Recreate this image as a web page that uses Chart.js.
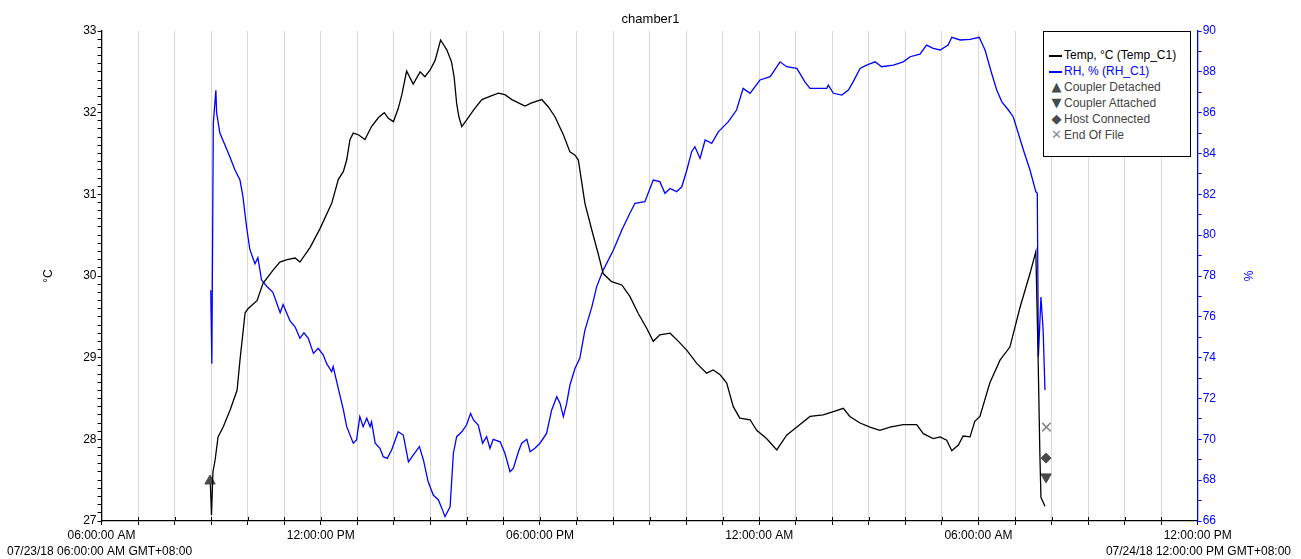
<!DOCTYPE html>
<html>
<head>
<meta charset="utf-8">
<script src="https://cdn.jsdelivr.net/npm/chart.js@4.4.1/dist/chart.umd.min.js"></script>
<style>
  body { margin: 0; background: #fff; }
  #wrap { position: relative; width: 1301px; height: 559px; }
  #legend {
    position: absolute; left: 1043px; top: 31px; width: 148px; height: 126px;
    border: 1.5px solid #000; background: #fff;
    font: 12px "Liberation Sans", Arial, sans-serif; padding-top: 15px; box-sizing: border-box;
  }
  #legend div { height: 16px; line-height: 16px; white-space: nowrap; padding-left: 5px; }
  #legend .ln { display: inline-block; width: 13px; height: 2px; vertical-align: middle; margin-right: 2px; }
  #legend .sym { display: inline-block; width: 15px; text-align: center; font-size: 13px; font-family: "DejaVu Sans", sans-serif; }
</style>
</head>
<body>
<div id="wrap">
  <canvas id="chart" width="1301" height="559"></canvas>
  <div id="legend"></div>
</div>
<script>
// hours after 07/23/18 06:00 AM
const tempHours = [2.98, 3.01, 3.05, 3.11, 3.19, 3.33, 3.52, 3.71, 3.79, 3.93, 4.01, 4.26, 4.42, 4.69, 4.88, 5.08, 5.30, 5.43, 5.71, 5.98,
  6.30, 6.48, 6.62, 6.71, 6.80, 6.89, 7.03, 7.21, 7.39, 7.58, 7.74, 7.85, 7.99, 8.12, 8.22, 8.35, 8.53, 8.72, 8.85, 8.99,
  9.13, 9.28, 9.45, 9.58, 9.65, 9.72, 9.78, 9.86, 9.99, 10.18, 10.41, 10.63, 10.86, 11.04, 11.23, 11.41, 11.59, 11.77, 12.05, 12.23,
  12.41, 12.64, 12.82, 12.96, 13.05, 13.23, 13.42, 13.60, 13.73, 13.96, 14.24, 14.46, 14.69, 14.92, 15.10, 15.28, 15.56, 15.79, 16.02, 16.29,
  16.56, 16.74, 16.93, 17.11, 17.29, 17.47, 17.75, 17.93, 18.20, 18.48, 18.75, 19.03, 19.39, 19.75, 20.03, 20.30, 20.48, 20.76, 21.03, 21.30,
  21.58, 21.94, 22.31, 22.49, 22.76, 22.95, 23.13, 23.27, 23.45, 23.58, 23.77, 23.90, 24.04, 24.31, 24.59, 24.86, 25.14, 25.41, 25.57, 25.63,
  25.68, 25.71, 25.82];
const tempValues = [27.45, 27.07, 27.60, 27.75, 28.03, 28.15, 28.36, 28.60, 28.97, 29.55, 29.60, 29.70, 29.91, 30.07, 30.17, 30.20, 30.22, 30.17, 30.35, 30.58,
  30.89, 31.18, 31.28, 31.42, 31.67, 31.75, 31.73, 31.67, 31.83, 31.94, 32.00, 31.93, 31.89, 32.05, 32.22, 32.51, 32.35, 32.50, 32.44, 32.52,
  32.64, 32.89, 32.77, 32.62, 32.44, 32.11, 31.95, 31.83, 31.91, 32.03, 32.16, 32.20, 32.24, 32.22, 32.16, 32.12, 32.08, 32.12, 32.16, 32.07,
  31.95, 31.73, 31.52, 31.48, 31.42, 30.89, 30.56, 30.26, 30.03, 29.93, 29.89, 29.75, 29.54, 29.36, 29.20, 29.28, 29.30, 29.20, 29.09, 28.93,
  28.81, 28.85, 28.79, 28.69, 28.40, 28.26, 28.24, 28.11, 28.01, 27.87, 28.05, 28.15, 28.28, 28.30, 28.34, 28.38, 28.28, 28.20, 28.15, 28.11,
  28.15, 28.18, 28.18, 28.07, 28.01, 28.03, 27.99, 27.86, 27.93, 28.04, 28.03, 28.22, 28.28, 28.69, 28.97, 29.13, 29.62, 30.03, 30.30, 29.06,
  27.83, 27.29, 27.18];

const rhHours = [2.99, 3.02, 3.06, 3.13, 3.15, 3.24, 3.43, 3.52, 3.65, 3.79, 3.87, 3.97, 4.06, 4.20, 4.28, 4.38, 4.52, 4.69, 4.89, 4.97,
  5.16, 5.30, 5.43, 5.54, 5.66, 5.80, 5.93, 6.07, 6.16, 6.30, 6.34, 6.48, 6.62, 6.71, 6.89, 6.98, 7.07, 7.16, 7.26, 7.35,
  7.39, 7.49, 7.62, 7.71, 7.82, 7.94, 8.12, 8.26, 8.40, 8.53, 8.70, 8.81, 8.94, 9.08, 9.22, 9.35, 9.40, 9.54, 9.63, 9.72,
  9.86, 9.99, 10.10, 10.18, 10.31, 10.43, 10.54, 10.63, 10.72, 10.91, 11.04, 11.18, 11.27, 11.41, 11.50, 11.64, 11.73, 11.86, 12.00, 12.18,
  12.32, 12.46, 12.55, 12.64, 12.73, 12.82, 12.96, 13.09, 13.23, 13.42, 13.55, 13.73, 14.01, 14.24, 14.46, 14.60, 14.87, 15.10, 15.28, 15.42,
  15.56, 15.74, 15.88, 16.02, 16.15, 16.24, 16.38, 16.52, 16.70, 16.88, 17.15, 17.38, 17.56, 17.75, 18.02, 18.30, 18.57, 18.75, 19.03, 19.25,
  19.39, 19.85, 19.89, 20.03, 20.26, 20.44, 20.57, 20.76, 20.94, 21.17, 21.35, 21.67, 21.94, 22.13, 22.40, 22.58, 22.76, 22.95, 23.17, 23.27,
  23.50, 23.77, 24.02, 24.18, 24.36, 24.50, 24.64, 24.82, 24.95, 25.09, 25.23, 25.41, 25.57, 25.61, 25.64, 25.71, 25.77, 25.82];
const rhValues = [77.30, 73.70, 85.50, 87.10, 86.00, 85.00, 84.20, 83.80, 83.20, 82.70, 81.90, 80.40, 79.30, 78.60, 78.90, 77.80, 77.50, 77.20, 76.20, 76.60,
  75.80, 75.50, 74.95, 75.22, 74.95, 74.21, 74.46, 74.13, 73.72, 73.31, 73.56, 72.50, 71.44, 70.62, 69.81, 69.97, 71.11, 70.62, 71.03, 70.62,
  70.86, 69.81, 69.56, 69.15, 69.07, 69.48, 70.37, 70.21, 68.90, 69.23, 69.64, 68.99, 67.92, 67.27, 67.03, 66.46, 66.21, 66.70, 69.32, 70.13,
  70.37, 70.70, 71.27, 70.95, 70.70, 69.81, 70.13, 69.56, 70.00, 69.88, 69.32, 68.41, 68.58, 69.39, 69.81, 70.00, 69.39, 69.56, 69.81, 70.29,
  71.44, 72.09, 71.76, 71.11, 71.76, 72.66, 73.48, 73.97, 75.35, 76.49, 77.47, 78.29, 79.27, 80.25, 81.07, 81.56, 81.64, 82.70, 82.62, 82.05,
  82.29, 82.13, 82.37, 83.19, 84.09, 84.33, 83.76, 84.66, 84.50, 85.06, 85.55, 86.13, 87.19, 86.95, 87.60, 87.76, 88.49, 88.25, 88.17, 87.51,
  87.19, 87.19, 87.35, 86.95, 86.86, 87.11, 87.51, 88.17, 88.33, 88.49, 88.25, 88.33, 88.49, 88.74, 88.87, 89.31, 89.15, 89.07, 89.31, 89.69,
  89.56, 89.59, 89.69, 89.07, 87.93, 87.11, 86.53, 86.13, 85.80, 84.99, 84.17, 83.19, 82.13, 82.05, 74.05, 76.97, 75.35, 72.42];

const eventNames = ['Coupler Detached', 'Coupler Attached', 'Host Connected', 'End Of File'];
const eventHours = [2.97, 25.85, 25.85, 25.86];
const eventValues = [27.49, 27.54, 27.77, 28.15];

const xTickLabels = ['06:00:00 AM', '12:00:00 PM', '06:00:00 PM', '12:00:00 AM', '06:00:00 AM', '12:00:00 PM'];
const startLabel = '07/23/18 06:00:00 AM GMT+08:00';
const endLabel = '07/24/18 12:00:00 PM GMT+08:00';

const toXY = (xs, ys) => xs.map((x, i) => ({ x: x, y: ys[i] }));

const eventStyles = [
  { pointStyle: 'triangle', rotation: 0, color: '#4a4a4a', r: 6, sym: '\u25B2' },
  { pointStyle: 'triangle', rotation: 180, color: '#4a4a4a', r: 6, sym: '\u25BC' },
  { pointStyle: 'rectRot', rotation: 0, color: '#4a4a4a', r: 5, sym: '\u25C6' },
  { pointStyle: 'crossRot', rotation: 0, color: '#8a8a8a', r: 6, sym: '\u2715' }
];

Chart.defaults.font.family = '"Liberation Sans", Arial, sans-serif';
Chart.defaults.font.size = 12;
Chart.defaults.color = '#000';

const datasets = [
  { label: 'Temp, \u00B0C (Temp_C1)', data: toXY(tempHours, tempValues), yAxisID: 'y',
    borderColor: '#000', borderWidth: 1.3, pointRadius: 0, tension: 0 },
  { label: 'RH, % (RH_C1)', data: toXY(rhHours, rhValues), yAxisID: 'y1',
    borderColor: '#0000ff', borderWidth: 1.3, pointRadius: 0, tension: 0 }
];
eventNames.forEach((name, i) => {
  const st = eventStyles[i];
  datasets.push({
    label: name, data: [{ x: eventHours[i], y: eventValues[i] }], yAxisID: 'y', showLine: false,
    pointStyle: st.pointStyle, rotation: st.rotation, pointRadius: st.r,
    backgroundColor: st.color, borderColor: st.color, borderWidth: st.pointStyle === 'crossRot' ? 1.6 : 1
  });
});

// axis titles, date labels under the x axis, short inner hour ticks
const extraText = {
  id: 'extraText',
  afterDraw(chart) {
    const c = chart.ctx, a = chart.chartArea, xs = chart.scales.x;
    const mid = (a.top + a.bottom) / 2;
    c.save();
    c.strokeStyle = '#000';
    c.lineWidth = 1;
    for (let h = 1; h < 30; h++) {
      const px = Math.round(xs.getPixelForValue(h)) + 0.5;
      c.beginPath(); c.moveTo(px, a.bottom); c.lineTo(px, a.bottom - 4); c.stroke();
    }
    c.font = '12px "Liberation Sans", Arial, sans-serif';
    c.textBaseline = 'middle';
    c.fillStyle = '#000';
    c.textAlign = 'left';
    c.fillText(startLabel, 7, a.bottom + 31);
    c.textAlign = 'right';
    c.fillText(endLabel, 1291, a.bottom + 31);
    c.textAlign = 'center';
    c.translate(49, mid); c.rotate(-Math.PI / 2); c.fillText('\u00B0C', 0, 0);
    c.restore();
    c.save();
    c.font = '12px "Liberation Sans", Arial, sans-serif';
    c.textBaseline = 'middle'; c.textAlign = 'center'; c.fillStyle = '#0000ff';
    c.translate(1250, mid); c.rotate(-Math.PI / 2); c.fillText('%', 0, 0);
    c.restore();
  }
};

new Chart(document.getElementById('chart'), {
  type: 'line',
  data: { datasets: datasets },
  plugins: [extraText],
  options: {
    responsive: false,
    animation: false,
    layout: { padding: 0 },
    plugins: {
      legend: { display: false },
      tooltip: { enabled: false },
      title: { display: true, text: 'chamber1', color: '#000', font: { size: 13, weight: 'normal' }, padding: { top: 12, bottom: 3.4 } }
    },
    scales: {
      x: {
        type: 'linear', min: 0, max: 30,
        ticks: { stepSize: 1, autoSkip: false, maxRotation: 0, padding: 3, color: '#000',
          callback: v => (v % 6 === 0 ? xTickLabels[v / 6] : '') },
        grid: { color: '#d8d8d8', lineWidth: 1, tickColor: '#000', tickLength: 4 },
        border: { color: '#000', width: 1.3 },
        afterFit: s => { s.height = 38; }
      },
      y: {
        position: 'left', min: 27, max: 33,
        ticks: { stepSize: 0.1, autoSkip: false, padding: 1, color: '#000',
          callback: v => (Math.abs(v - Math.round(v)) < 1e-6 ? String(Math.round(v)) : '') },
        grid: { drawOnChartArea: false, tickColor: '#000', tickLength: 4 },
        border: { color: '#000', width: 1.3 },
        afterFit: s => { s.width = 101.5; }
      },
      y1: {
        position: 'right', min: 66, max: 90,
        ticks: { stepSize: 1, autoSkip: false, padding: 1, color: '#0000ff',
          callback: v => (v % 2 === 0 ? String(v) : '') },
        grid: { drawOnChartArea: false, tickColor: '#0000ff', tickLength: 4 },
        border: { color: '#0000ff', width: 1.3 },
        afterFit: s => { s.width = 103.3; }
      }
    }
  }
});

// legend box
const legend = document.getElementById('legend');
legend.innerHTML =
  '<div style="color:#000"><span class="ln" style="background:#000"></span>' + datasets[0].label + '</div>' +
  '<div style="color:#0000ff"><span class="ln" style="background:#0000ff"></span>' + datasets[1].label + '</div>' +
  eventNames.map((n, i) => '<div style="color:#444"><span class="sym" style="color:' + eventStyles[i].color + '">' +
    eventStyles[i].sym + '</span>' + n + '</div>').join('');
</script>
</body>
</html>
